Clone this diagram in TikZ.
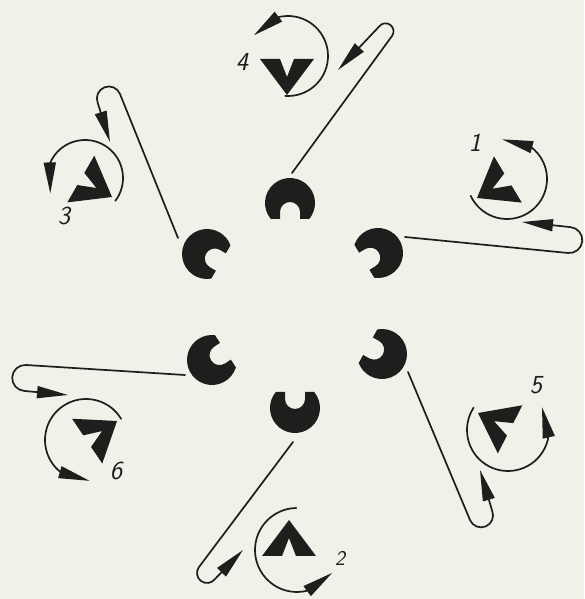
\documentclass[tikz,border=0pt]{standalone}
\usetikzlibrary{arrows.meta,bending}
\definecolor{paper}{RGB}{241,240,233}
\definecolor{ink}{RGB}{32,29,29}
\begin{document}
\begin{tikzpicture}[x=1pt,y=1pt,
        swing/.style={draw=ink,line width=1.7pt,line cap=round,-{Triangle[length=31pt,width=12pt]}},
        ring/.pic={\fill[ink] (16,10) -- (9,10) arc[start angle=90,end angle=270,radius=10] -- (16,-10) -- (16,-19.2) arc[start angle=-50.2,end angle=-309.8,radius=25] -- cycle;},
        chev/.pic={\fill[ink] (0,0) -- (-36,27) -- (-36,7) -- (-18,0) -- (-36,-7) -- (-36,-27) -- cycle;},
        num/.style={text=ink,inner sep=0pt,font=\sffamily\slshape\fontsize{26}{26}\selectfont}]
        \useasboundingbox (0,0) rectangle (584,599);
        \fill[paper] (0,0) rectangle (584,599);
        \coordinate (r4) at (290,396);
        \coordinate (r1) at (378,346);
        \coordinate (r3) at (207,345);
        \coordinate (r6) at (212,239);
        \coordinate (r5) at (382,245);
        \coordinate (r2) at (295,191);
        \pic[rotate=-90] at (r4) {ring};
        \pic[rotate=211] at (r1) {ring};
        \pic[rotate=-30] at (r3) {ring};
        \pic[rotate=33] at (r6) {ring};
        \pic[rotate=151] at (r5) {ring};
        \pic[rotate=90] at (r2) {ring};
        \pic[rotate=-90] at (287,504) {chev};
        \pic[rotate=211] at (477,401) {chev};
        \pic[rotate=-30] at (112,402) {chev};
        \pic[rotate=34] at (117,178) {chev};
        \pic[rotate=153] at (478,186) {chev};
        \pic[rotate=90] at (289,79) {chev};
        \draw[swing] (288,543) ++(-94:40) arc[start angle=-94,end angle=149,radius=40];
        \draw[swing] (507,420) ++(205:40) arc[start angle=205,end angle=457,radius=40];
        \draw[swing] (85,421) ++(-37:38) arc[start angle=-37,end angle=204,radius=38];
        \draw[swing] (86,159) ++(31:41) arc[start angle=31,end angle=275,radius=41];
        \draw[swing] (508,169) ++(147:41) arc[start angle=147,end angle=394,radius=41];
        \draw[swing] (297,49) ++(91:42) arc[start angle=91,end angle=327,radius=42];
        \draw[swing] (292,426) -- (392,563) arc[start angle=-36.1,delta angle=180,radius=8] -- (338,529);
        \draw[swing] (405,362) -- (568,346) arc[start angle=-95.7,delta angle=180,radius=13] -- (522,377);
        \draw[swing] (178,361) -- (120,505) arc[start angle=21.9,delta angle=180,radius=12] -- (110,457);
        \draw[swing] (185,224) -- (26,234) arc[start angle=86.4,delta angle=180,radius=13] -- (68,204);
        \draw[swing] (408,227) -- (470,79) arc[start angle=-157.3,delta angle=180,radius=12] -- (480,129);
        \draw[swing] (293,157) -- (199,32) arc[start angle=143.1,delta angle=180,radius=10] -- (243,49);
        \node[num] (n4) at (242,537) {4};
        \node[num] (n1) at (475,456) {1};
        \node[num] (n3) at (64,383) {3};
        \node[num] (n6) at (116,128) {6};
        \node[num] (n5) at (536,214) {5};
        \node[num,font=\sffamily\slshape\fontsize{21}{21}\selectfont] (n2) at (340,41) {2};
    \end{tikzpicture}
\end{document}
